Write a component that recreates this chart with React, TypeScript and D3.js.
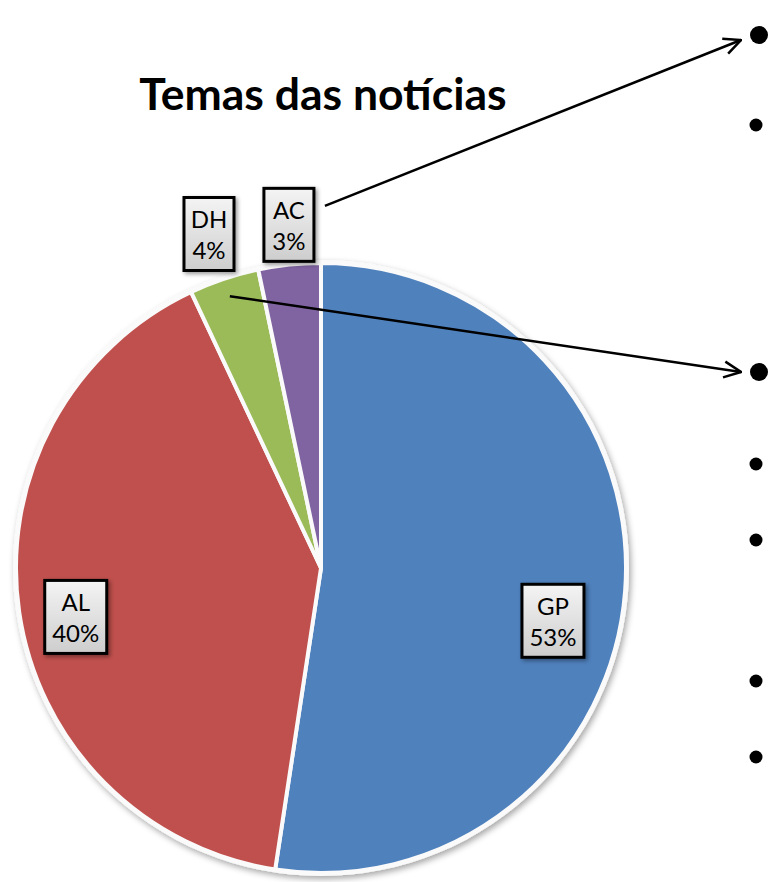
import { useEffect, useRef } from "react";
import * as d3 from "d3";

const categories = ["GP", "AL", "DH", "AC"];
const shares = [52.4, 40.6, 3.7, 3.3];
const pctLabels = ["53%", "40%", "4%", "3%"];
const colors = ["#4F81BD", "#C0504D", "#9BBB59", "#8064A2"];
const title = "Temas das notícias";

// bullets of the slide text at the right (text itself is cut off)
const bulletY = [35, 125, 372, 464, 540, 681, 757];
const bulletBig = [true, false, true, false, false, false, false];

const W = 769;
const H = 882;

const App = () => {
  const ref = useRef<SVGSVGElement | null>(null);

  useEffect(() => {
    const svg = d3.select(ref.current);
    svg.selectAll("*").remove();

    const cx = 321;
    const cy = 568;
    const r = 305;
    const font = "Lato, 'Open Sans', sans-serif";

    const defs = svg.append("defs");
    const grad = defs.append("linearGradient")
      .attr("id", "lblgrad").attr("x1", 0).attr("y1", 0).attr("x2", 0).attr("y2", 1);
    grad.append("stop").attr("offset", "0%").attr("stop-color", "#f4f4f4");
    grad.append("stop").attr("offset", "100%").attr("stop-color", "#cdcdcd");

    const sh = defs.append("filter").attr("id", "shadow")
      .attr("x", "-10%").attr("y", "-10%").attr("width", "130%").attr("height", "130%");
    sh.append("feDropShadow").attr("dx", 2).attr("dy", 3).attr("stdDeviation", 3)
      .attr("flood-color", "#000").attr("flood-opacity", 0.35);
    const sh2 = defs.append("filter").attr("id", "shadow2")
      .attr("x", "-30%").attr("y", "-30%").attr("width", "160%").attr("height", "160%");
    sh2.append("feDropShadow").attr("dx", 2).attr("dy", 2).attr("stdDeviation", 2)
      .attr("flood-color", "#000").attr("flood-opacity", 0.4);

    const mk = defs.append("marker").attr("id", "arrow")
      .attr("viewBox", "0 0 20 20").attr("refX", 19).attr("refY", 10)
      .attr("markerWidth", 20).attr("markerHeight", 20)
      .attr("markerUnits", "userSpaceOnUse")
      .attr("orient", "auto");
    mk.append("path").attr("d", "M2,2 L19,10 L2,18")
      .attr("fill", "none").attr("stroke", "#000").attr("stroke-width", 2.5);

    // title
    svg.append("text")
      .attr("x", 323).attr("y", 110)
      .attr("text-anchor", "middle")
      .attr("font-family", font)
      .attr("font-weight", "bold")
      .attr("font-size", 44.5)
      .attr("fill", "#000")
      .text(title);

    const pie = d3.pie<number>().sort(null).value(d => d);
    const arcs = pie(shares);
    const arc = d3.arc<d3.PieArcDatum<number>>().innerRadius(0).outerRadius(r);

    const g = svg.append("g").attr("transform", `translate(${cx},${cy})`);

    // white rim + shadow behind
    g.append("circle").attr("r", r + 3).attr("fill", "#fafafa")
      .attr("filter", "url(#shadow)");

    g.selectAll("path.slice")
      .data(arcs)
      .join("path")
      .attr("class", "slice")
      .attr("d", arc)
      .attr("fill", (d, i) => colors[i])
      .attr("stroke", "#fafafa")
      .attr("stroke-width", 4)
      .attr("stroke-linejoin", "round");

    // label placement: big slices inside, small ones outside
    const labelPlace = [
      { k: 0.78, da: 8.5 },
      { k: 0.82, da: -3 },
      { k: 1.155, da: 0 },
      { k: 1.13, da: 0.6 },
    ];
    const pos = (a: number, k: number) => [Math.sin(a) * r * k, -Math.cos(a) * r * k];

    const labels = g.selectAll("g.lbl")
      .data(arcs)
      .join("g")
      .attr("class", "lbl")
      .attr("transform", (d, i) => {
        const mid = (d.startAngle + d.endAngle) / 2 + (labelPlace[i].da * Math.PI) / 180;
        const [x, y] = pos(mid, labelPlace[i].k);
        return `translate(${x},${y})`;
      });

    labels.each(function (d, i) {
      const lg = d3.select(this);
      const bw = pctLabels[i].length > 2 ? 62 : 50;
      const bh = 73;
      lg.append("rect")
        .attr("x", -bw / 2).attr("y", -bh / 2)
        .attr("width", bw).attr("height", bh)
        .attr("fill", "url(#lblgrad)")
        .attr("stroke", "#000")
        .attr("stroke-width", 3)
        .attr("filter", "url(#shadow2)");
      lg.append("text")
        .attr("y", -6)
        .attr("text-anchor", "middle")
        .attr("font-family", font)
        .attr("font-size", 24)
        .attr("fill", "#000")
        .text(categories[i]);
      lg.append("text")
        .attr("y", 25)
        .attr("text-anchor", "middle")
        .attr("font-family", font)
        .attr("font-size", 24)
        .attr("fill", "#000")
        .text(pctLabels[i]);
    });

    // bullets
    svg.selectAll("circle.bullet")
      .data(bulletY)
      .join("circle")
      .attr("class", "bullet")
      .attr("cx", (d, i) => (bulletBig[i] ? 759 : 756))
      .attr("cy", d => d)
      .attr("r", (d, i) => (bulletBig[i] ? 9 : 6.5))
      .attr("fill", "#000");

    // arrows: AC label -> first bullet, DH slice -> third bullet
    const ac = arcs[3];
    const acMid = (ac.startAngle + ac.endAngle) / 2 + (labelPlace[3].da * Math.PI) / 180;
    const [ax, ay] = pos(acMid, labelPlace[3].k);
    const dh = arcs[2];
    const [dx, dy] = pos((dh.startAngle + dh.endAngle) / 2, 0.94);

    const arrows = [
      { x1: cx + ax + 36, y1: cy + ay - 19, x2: 741, y2: 40 },
      { x1: cx + dx, y1: cy + dy, x2: 741, y2: 372 },
    ];
    svg.selectAll("line.arrow")
      .data(arrows)
      .join("line")
      .attr("class", "arrow")
      .attr("x1", d => d.x1).attr("y1", d => d.y1)
      .attr("x2", d => d.x2).attr("y2", d => d.y2)
      .attr("stroke", "#000")
      .attr("stroke-width", 2.5)
      .attr("marker-end", "url(#arrow)");
  }, []);

  return (
    <svg
      ref={ref}
      width={W}
      height={H}
      viewBox={`0 0 ${W} ${H}`}
      style={{ position: "absolute", left: 0, top: 0, background: "#fff", display: "block" }}
    />
  );
};

export default App;
